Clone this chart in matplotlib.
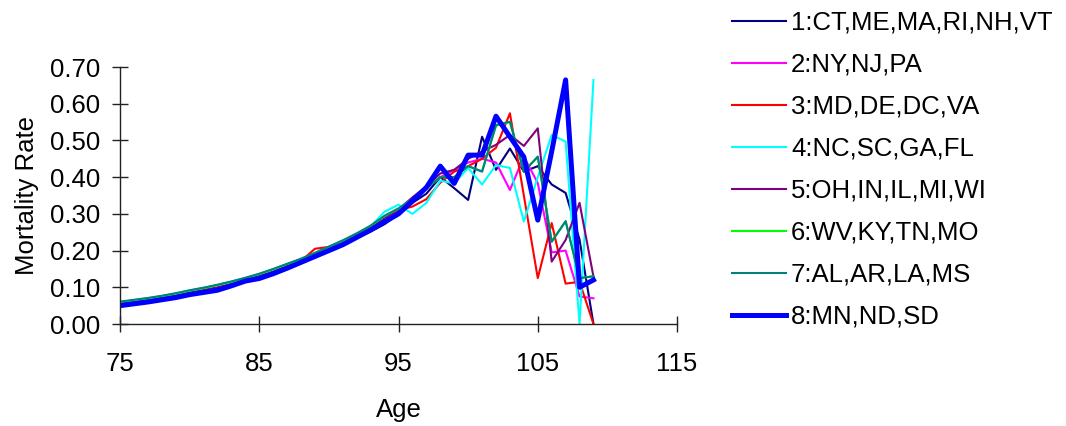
import matplotlib
matplotlib.use("Agg")
import matplotlib.pyplot as plt

plt.rcParams.update({
    "font.family": ["Liberation Sans", "DejaVu Sans"],
    "font.size": 18.5,
})

ages = list(range(75, 110))

region_labels = [
    "1:CT,ME,MA,RI,NH,VT",
    "2:NY,NJ,PA",
    "3:MD,DE,DC,VA",
    "4:NC,SC,GA,FL",
    "5:OH,IN,IL,MI,WI",
    "6:WV,KY,TN,MO",
    "7:AL,AR,LA,MS",
    "8:MN,ND,SD",
]

r1 = [0.054, 0.059, 0.064, 0.070, 0.076, 0.084, 0.090, 0.097, 0.107, 0.117, 0.127,
      0.140, 0.155, 0.168, 0.184, 0.200, 0.216, 0.235, 0.252, 0.272, 0.300,
      0.330, 0.355, 0.400, 0.370, 0.338, 0.510, 0.420, 0.478, 0.415, 0.430,
      0.380, 0.357, 0.230, 0.000]
r2 = [0.053, 0.058, 0.064, 0.069, 0.075, 0.083, 0.090, 0.096, 0.106, 0.118, 0.128,
      0.141, 0.156, 0.170, 0.187, 0.203, 0.220, 0.240, 0.260, 0.283, 0.305,
      0.340, 0.370, 0.400, 0.420, 0.440, 0.450, 0.440, 0.365, 0.456, 0.384,
      0.195, 0.200, 0.075, 0.070]
r3 = [0.056, 0.061, 0.066, 0.072, 0.078, 0.086, 0.093, 0.100, 0.110, 0.120, 0.131,
      0.143, 0.158, 0.172, 0.205, 0.210, 0.225, 0.242, 0.262, 0.275, 0.310,
      0.320, 0.340, 0.385, 0.415, 0.430, 0.450, 0.480, 0.574, 0.350, 0.125,
      0.275, 0.110, 0.115, 0.000]
r4 = [0.058, 0.063, 0.069, 0.075, 0.082, 0.090, 0.098, 0.106, 0.115, 0.125, 0.136,
      0.149, 0.163, 0.176, 0.190, 0.207, 0.224, 0.244, 0.266, 0.306, 0.325,
      0.300, 0.330, 0.390, 0.383, 0.425, 0.380, 0.433, 0.425, 0.279, 0.400,
      0.515, 0.497, 0.000, 0.665]
r5 = [0.055, 0.060, 0.065, 0.071, 0.077, 0.085, 0.092, 0.099, 0.108, 0.119, 0.130,
      0.142, 0.157, 0.171, 0.187, 0.204, 0.221, 0.240, 0.262, 0.288, 0.312,
      0.345, 0.375, 0.410, 0.420, 0.450, 0.470, 0.488, 0.515, 0.485, 0.533,
      0.170, 0.229, 0.330, 0.129]
r6 = [0.060, 0.065, 0.070, 0.076, 0.083, 0.091, 0.098, 0.106, 0.115, 0.125, 0.136,
      0.149, 0.163, 0.177, 0.193, 0.210, 0.227, 0.246, 0.267, 0.294, 0.314,
      0.339, 0.369, 0.400, 0.400, 0.430, 0.416, 0.540, 0.550, 0.416, 0.455,
      0.225, 0.280, 0.125, 0.130]
r7 = [0.061, 0.066, 0.071, 0.077, 0.084, 0.092, 0.099, 0.107, 0.116, 0.126, 0.137,
      0.150, 0.164, 0.178, 0.194, 0.211, 0.228, 0.247, 0.268, 0.295, 0.315,
      0.340, 0.370, 0.400, 0.400, 0.430, 0.415, 0.542, 0.551, 0.415, 0.456,
      0.224, 0.280, 0.125, 0.130]
r8 = [0.050, 0.055, 0.060, 0.066, 0.072, 0.080, 0.086, 0.092, 0.104, 0.117, 0.124,
      0.137, 0.152, 0.168, 0.184, 0.200, 0.216, 0.236, 0.256, 0.278, 0.300,
      0.335, 0.372, 0.430, 0.383, 0.460, 0.460, 0.566, 0.510, 0.455, 0.283,
      0.470, 0.665, 0.100, 0.120]

series = [r1, r2, r3, r4, r5, r6, r7, r8]
colors = ["#000080", "#FF00FF", "#FF0000", "#00FFFF",
          "#800080", "#00FF00", "#008080", "#0000FF"]
widths = [1.5, 1.5, 1.5, 1.5, 1.5, 1.5, 1.5, 3.6]

fig = plt.figure(figsize=(10.66, 4.26), dpi=100)
ax = fig.add_axes([0.1126, 0.2394, 0.5225, 0.6033])

for vals, lab, c, lw in zip(series, region_labels, colors, widths):
    ax.plot(ages, vals, color=c, lw=lw, label=lab)

ax.set_xlim(75, 115)
ax.set_ylim(0, 0.70)
ax.set_xticks([75, 85, 95, 105, 115])
ax.set_yticks([0.0, 0.1, 0.2, 0.3, 0.4, 0.5, 0.6, 0.7])
ax.yaxis.set_major_formatter(matplotlib.ticker.FormatStrFormatter("%.2f"))
ax.tick_params(direction="inout", length=12, width=1, color="#222222", labelsize=18.5)
ax.tick_params(axis="x", pad=14)
ax.tick_params(axis="y", pad=8)
for s in ["top", "right"]:
    ax.spines[s].set_visible(False)
for s in ["left", "bottom"]:
    ax.spines[s].set_color("#222222")
    ax.spines[s].set_linewidth(1)

ax.set_xlabel("Age", labelpad=16)
ax.set_ylabel("Mortality Rate", labelpad=8)

fig.legend(loc="upper left", bbox_to_anchor=(0.6864, 0.975), frameon=False,
           handlelength=2.12, handletextpad=0.19, labelspacing=0.70,
           fontsize=18.5, borderaxespad=0, borderpad=0)

fig.savefig("out.png", dpi=100)
